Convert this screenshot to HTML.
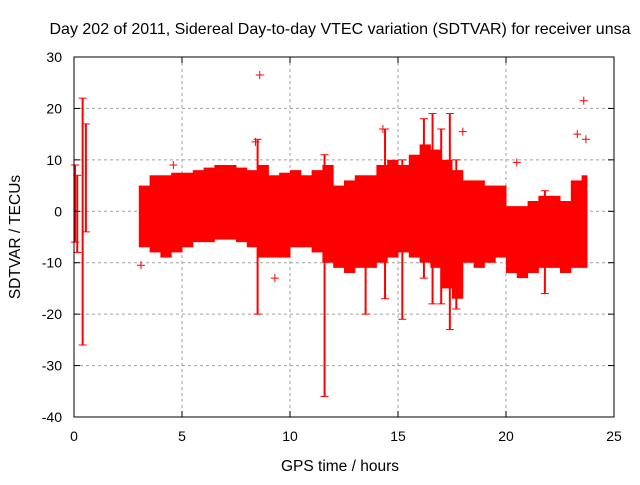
<!DOCTYPE html>
<html><head><meta charset="utf-8"><style>
body{margin:0;background:#fff;}
svg{font-family:"Liberation Sans",sans-serif;}
</style></head><body>
<svg id="c" width="640" height="480" xmlns="http://www.w3.org/2000/svg">
<text x="340" y="34" font-size="16" text-anchor="middle">Day 202 of 2011, Sidereal Day-to-day VTEC variation (SDTVAR) for receiver unsa</text>
<text x="340" y="471" font-size="15.5" text-anchor="middle">GPS time / hours</text>
<text transform="translate(20,237) rotate(-90)" font-size="15.5" text-anchor="middle">SDTVAR / TECUs</text>
<g id="grid"></g><g id="marks"></g><g id="axes"></g>
</svg>
<script>
const xTicks=[0,5,10,15,20,25];
const yTicks=[-40,-30,-20,-10,0,10,20,30];
const binHours=[3,3.5,4,4.5,5,5.5,6,6.5,7,7.5,8,8.5,9,9.5,10,10.5,11,11.5,12,12.5,13,13.5,14,14.5,15,15.5,16,16.5,17,17.5,18,18.5,19,19.5,20,20.5,21,21.5,22,22.5,23,23.5];
const binTop=[5,7,7,7.5,7.5,8,8.5,9,9,8.5,8,9,7,7.5,8,7,8,9,5,6,7,7,9,10,9,11,13,12,10,8,6,6,5,5,1,1,2,3,3,2,6,7];
const binBottom=[-7,-8,-9,-8,-7,-6,-6,-5.5,-5.5,-6,-7,-9,-9,-9,-7,-7,-8,-10,-11,-12,-11,-11,-10,-9,-8,-9,-10,-11,-15,-17,-10,-11,-10,-9,-12,-13,-12,-11,-11,-12,-11,-11];
const spikeHour=[0.05,0.15,0.4,0.55,8.5,11.6,13.5,15.2,16.2,16.6,17.0,17.4,17.7,14.4,21.8];
const spikeLo=[-6,-8,-26,-4,-20,-36,-20,-21,-13,-18,-18,-23,-19,-17,-16];
const spikeHi=[9,7,22,17,14,11,-9,10,18,19,16,19,10,16,4];
const outHour=[8.6,23.6,23.7,3.1,9.3,18,20.5,14.3,23.3,4.6,8.4];
const outVal=[26.5,21.5,14,-10.5,-13,15.5,9.5,16,15,9,13.5];
const X0=74,X1=614,Y0=417,Y1=57,HMAX=23.75;
const sx=h=>X0+(h-0)/25*(X1-X0);
const sy=v=>Y0-(v+40)/70*(Y0-Y1);
const NS="http://www.w3.org/2000/svg";
function mk(t,a,p){const e=document.createElementNS(NS,t);for(const k in a)e.setAttribute(k,a[k]);p.appendChild(e);return e;}
const grid=document.getElementById('grid'),marks=document.getElementById('marks'),axes=document.getElementById('axes');
xTicks.forEach(t=>{
 if(t>0&&t<25){const g=mk('line',{x1:sx(t),x2:sx(t),y1:Y1,y2:Y0,stroke:'#a0a0a0','stroke-dasharray':'3,3'},grid);
 
 }
 const l=mk('text',{x:sx(t),y:Y0+24,'font-size':14,'text-anchor':'middle'},axes);l.textContent=t;
 
 
 mk('line',{x1:sx(t),x2:sx(t),y1:Y0,y2:Y0-6,stroke:'#000'},axes);
 mk('line',{x1:sx(t),x2:sx(t),y1:Y1,y2:Y1+6,stroke:'#000'},axes);
});
yTicks.forEach(t=>{
 if(t>-40&&t<30){const g=mk('line',{x1:X0,x2:X1,y1:sy(t),y2:sy(t),stroke:'#a0a0a0','stroke-dasharray':'3,3'},grid);
 
 }
 const l=mk('text',{x:X0-12,y:sy(t)+5,'font-size':14,'text-anchor':'end'},axes);l.textContent=t;
 
 
 mk('line',{x1:X0,x2:X0+6,y1:sy(t),y2:sy(t),stroke:'#000'},axes);
 mk('line',{x1:X1,x2:X1-6,y1:sy(t),y2:sy(t),stroke:'#000'},axes);
});
const fr=mk('rect',{x:X0,y:Y1,width:X1-X0,height:Y0-Y1,fill:'none',stroke:'#000'},axes);


binHours.forEach((h,i)=>{
 const end=Math.min(h+0.5,HMAX);
 const r=mk('rect',{x:sx(h),y:sy(binTop[i]),width:sx(end)-sx(h)+0.5,height:sy(binBottom[i])-sy(binTop[i]),fill:'#ff0000'},marks);
 
 
});
spikeHour.forEach((h,i)=>{
 const l=mk('line',{x1:sx(h),x2:sx(h),y1:sy(spikeLo[i]),y2:sy(spikeHi[i]),stroke:'#ff0000','stroke-width':2},marks);
 
 
 [spikeLo[i],spikeHi[i]].forEach(v=>{mk('line',{x1:sx(h)-4,x2:sx(h)+4,y1:sy(v),y2:sy(v),stroke:'#ff0000'},marks);});
});
outHour.forEach((h,i)=>{
 const g=mk('path',{d:`M${sx(h)-4} ${sy(outVal[i])}h8M${sx(h)} ${sy(outVal[i])-4}v8`,stroke:'#ff0000','stroke-width':1},marks);
 
 
});
</script>
</body></html>
